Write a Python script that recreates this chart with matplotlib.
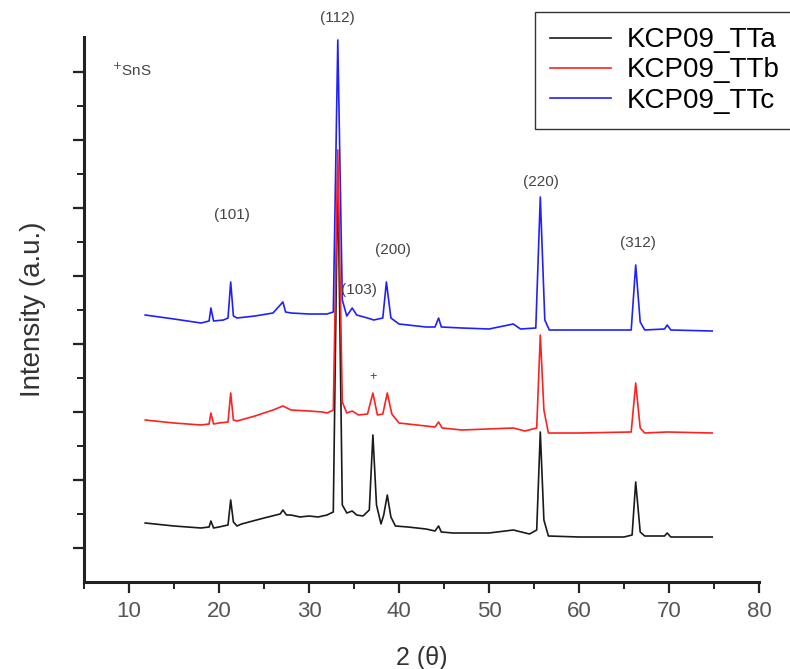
import matplotlib
matplotlib.use("Agg")
import matplotlib.pyplot as plt
from matplotlib.ticker import FixedLocator, MultipleLocator

plt.rcParams['font.family'] = ['Liberation Sans', 'DejaVu Sans']

# ---- data (2theta in degrees, intensity in arbitrary units, offset stacked) ----
tta_x = [11.8, 15, 18, 18.9, 19.1, 19.4, 20.0, 21.0, 21.3, 21.6, 22.0, 22.5, 25, 26.8, 27.1, 27.5,
         28, 29, 30, 31, 32, 32.7, 33.2, 33.7, 34.2, 34.8, 35.3, 36.0, 36.7, 37.1, 37.5, 38.0,
         38.3, 38.7, 39.1, 39.6, 41, 43, 44.0, 44.4, 44.7, 46, 50, 52.7, 54.5, 55.3, 55.7, 56.1,
         56.6, 60, 65, 65.9, 66.3, 66.8, 67.3, 69.5, 69.8, 70.2, 74.8]
tta_y = [59, 56, 54, 55, 61, 54, 55, 57, 82, 60, 56, 58, 64, 68, 72, 67,
         67, 65, 66, 65, 67, 70, 412, 77, 69, 71, 67, 66, 72, 147, 77, 58,
         67, 87, 65, 56, 55, 53, 51, 56, 50, 49, 49, 52, 48, 52, 150, 62,
         46, 45, 45, 47, 100, 50, 46, 46, 49, 45, 45]

ttb_x = [11.8, 15, 18, 18.9, 19.1, 19.4, 20, 21.0, 21.3, 21.6, 22, 24, 26, 27.1, 28, 30,
         31.5, 32, 32.7, 33.2, 33.7, 34.2, 34.8, 35.5, 36.5, 37.1, 37.6, 38.2, 38.7, 39.2, 40,
         42, 44.0, 44.4, 44.8, 47, 52.7, 54, 55.3, 55.7, 56.1, 56.6, 60, 65.8, 66.3, 66.8,
         67.3, 69.8, 74.8]
ttb_y = [162, 159, 157, 158, 169, 158, 159, 160, 189, 162, 161, 166, 172, 176, 172, 171,
         170, 169, 172, 432, 180, 169, 171, 167, 168, 189, 167, 168, 189, 168, 159,
         157, 155, 160, 154, 152, 154, 151, 154, 247, 172, 149, 149, 150, 199, 154,
         149, 150, 149]

ttc_x = [11.8, 15, 18, 18.9, 19.1, 19.4, 20.5, 21.0, 21.3, 21.6, 22, 24, 26, 27.1, 27.4, 28,
         30, 32, 32.7, 33.2, 33.7, 34.2, 34.8, 35.3, 36.5, 37.2, 38.2, 38.6, 39.1, 40, 43,
         44.0, 44.4, 44.7, 47, 50, 52.7, 53.5, 55.2, 55.7, 56.2, 56.7, 60, 65.8, 66.3, 66.8,
         67.3, 69.5, 69.8, 70.2, 74.8]
ttc_y = [267, 263, 259, 261, 274, 261, 262, 264, 300, 266, 264, 266, 269, 280, 270, 269,
         268, 268, 270, 542, 282, 266, 274, 267, 264, 262, 264, 300, 264, 258, 255,
         255, 264, 255, 254, 253, 258, 253, 254, 385, 262, 252, 252, 252, 317, 260,
         252, 253, 257, 252, 251]

series_labels = ['KCP09_TTa', 'KCP09_TTb', 'KCP09_TTc']
series_colors = ['#1a1a1a', '#ff2020', '#2020ff']

# peak annotations: (label, 2theta, intensity)
peak_labels = ['(112)', '(101)', '(103)', '(200)', '(220)', '(312)']
peak_x = [33.2, 21.4, 35.5, 39.3, 55.8, 66.5]
peak_y = [564, 367, 292, 332, 400, 339]

x_ticks = [10, 20, 30, 40, 50, 60, 70, 80]

# ---- figure ----
fig = plt.figure(figsize=(7.9, 6.69), dpi=100)
ax = fig.add_axes([84/790, 1-582/669, 675/790, 545/669])

for xs, ys, lab, col in zip([tta_x, ttb_x, ttc_x], [tta_y, ttb_y, ttc_y],
                            series_labels, series_colors):
    ax.plot(xs, ys, color=col, lw=1.2, label=lab)

ax.set_xlim(5, 80)
ax.set_ylim(0, 545)

for s in ['top', 'right']:
    ax.spines[s].set_visible(False)
for s in ['left', 'bottom']:
    ax.spines[s].set_linewidth(2.2)
    ax.spines[s].set_color('#222222')

ax.xaxis.set_major_locator(FixedLocator(x_ticks))
ax.xaxis.set_minor_locator(MultipleLocator(5))
ax.yaxis.set_major_locator(FixedLocator([34 + 68*k for k in range(8)]))
ax.yaxis.set_minor_locator(FixedLocator([68*k for k in range(1, 8)]))
ax.set_yticklabels([])
ax.tick_params(axis='both', which='major', length=8, width=1.6, color='#222222',
               direction='out')
ax.tick_params(axis='both', which='minor', length=5, width=1.4, color='#222222',
               direction='out')
ax.tick_params(axis='x', labelsize=16, labelcolor='#555555', pad=6)

ax.set_xlabel('2 (θ)', fontsize=18, color='#333333', labelpad=17)
ax.set_ylabel('Intensity (a.u.)', fontsize=20, color='#333333', labelpad=16)

for lab, px, py in zip(peak_labels, peak_x, peak_y):
    ax.text(px, py, lab, fontsize=11, color='#444444', ha='center', va='center',
            clip_on=False)
ax.text(37.1, 205, '+', fontsize=9, color='#444444', ha='center', va='center')
ax.text(8.1, 512, '$^{+}$SnS', fontsize=11, color='#444444', ha='left', va='center')

fig.legend(loc='upper left', bbox_to_anchor=(535/790, 1-12/669), fontsize=20,
           frameon=True, fancybox=False, edgecolor='#333333', framealpha=1,
           handlelength=2.2, handletextpad=0.55, labelspacing=0.15, borderpad=0.55,
           borderaxespad=0)

fig.savefig('out.png', dpi=100)
